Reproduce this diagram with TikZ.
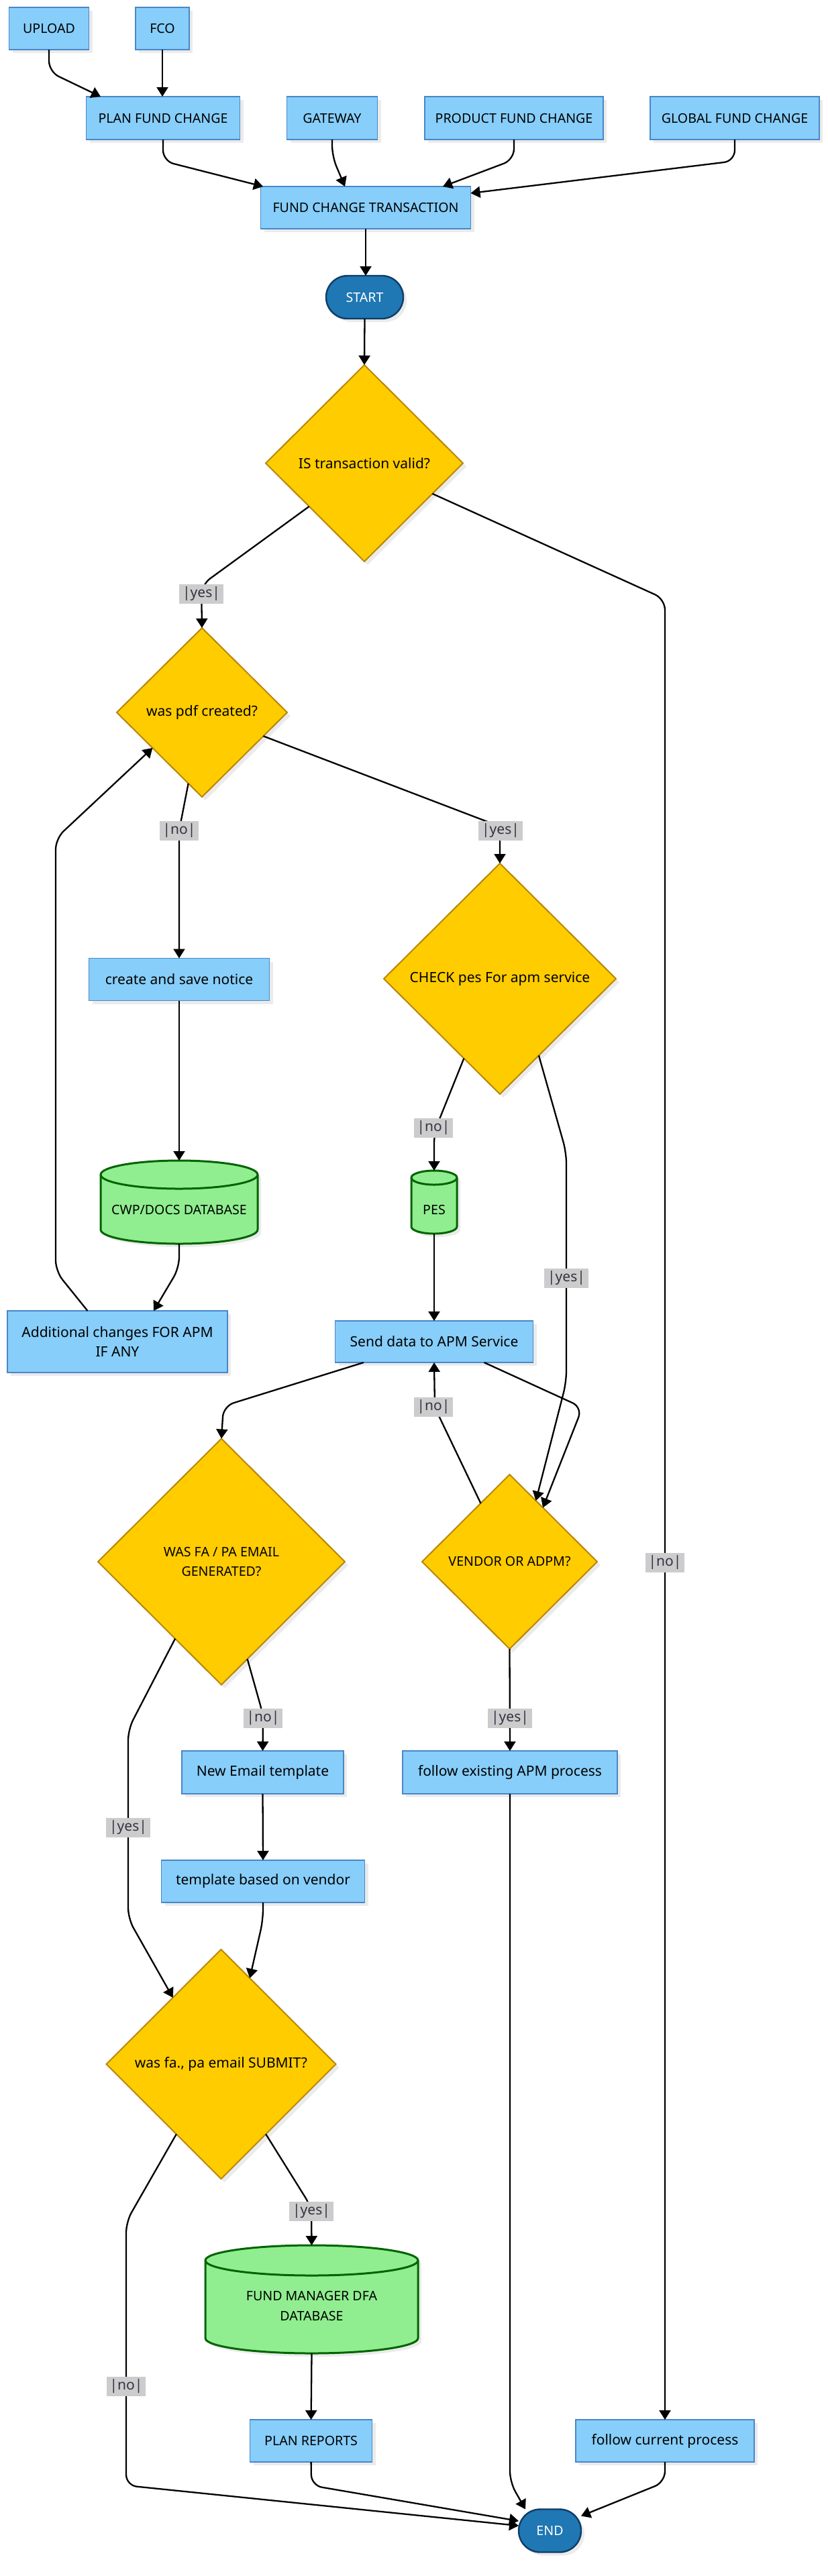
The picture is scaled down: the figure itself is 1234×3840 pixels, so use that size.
\documentclass[tikz,border=0pt]{standalone}
\usepackage{fontspec}
\setmainfont{Noto Sans}
\usetikzlibrary{arrows.meta,shapes.geometric,shadows,calc}
\definecolor{boxfill}{HTML}{87CEFA}
\definecolor{boxline}{HTML}{4A86C8}
\definecolor{decfill}{HTML}{FFCC00}
\definecolor{decline}{HTML}{B8860B}
\definecolor{cylfill}{HTML}{90EE90}
\definecolor{cylline}{HTML}{006400}
\definecolor{termfill}{HTML}{1F77B4}
\definecolor{termline}{HTML}{0F3D66}
\definecolor{lblfill}{HTML}{CCCCCC}
\definecolor{lbltext}{HTML}{333344}
\newcommand\dbcyl[5]{%
 \pgfmathsetmacro\dbXa{#1-#3/2}%
 \pgfmathsetmacro\dbXb{#1+#3/2}%
 \pgfmathsetmacro\dbYt{-(#2)+#4/2-#5}%
 \pgfmathsetmacro\dbYb{-(#2)-#4/2+#5}%
 \pgfmathsetmacro\dbRx{#3/4}%
 \pgfmathsetmacro\dbRy{#5/2}%
 \fill[black, opacity=0.08, shift={(2.5pt,-2.5pt)}] (\dbXa,\dbYt) -- (\dbXa,\dbYb) arc[start angle=180, end angle=360, x radius=\dbRx pt, y radius=\dbRy pt] -- (\dbXb,\dbYt) arc[start angle=0, end angle=180, x radius=\dbRx pt, y radius=\dbRy pt] -- cycle;
 \filldraw[cylshape] (\dbXa,\dbYt) -- (\dbXa,\dbYb) arc[start angle=180, end angle=360, x radius=\dbRx pt, y radius=\dbRy pt] -- (\dbXb,\dbYt) arc[start angle=0, end angle=180, x radius=\dbRx pt, y radius=\dbRy pt] -- cycle;
 \draw[cylshape, fill=none] (\dbXa,\dbYt) arc[start angle=180, end angle=360, x radius=\dbRx pt, y radius=\dbRy pt];
}
\tikzset{
 base/.style={font=\fontsize{10.5}{14.75}\selectfont, align=center, inner sep=0pt, outer sep=0pt},
 caps/.style={font=\fontsize{9.8}{14.75}\selectfont},
 shad/.style={drop shadow={shadow xshift=2.5pt, shadow yshift=-2.5pt, fill=black, opacity=0.08}},
 box/.style={base, rectangle, fill=boxfill, draw=boxline, line width=0.75pt, shad},
 dec/.style={base, diamond, fill=decfill, draw=decline, line width=1pt, shad},
 term/.style={base, caps, rectangle, rounded corners=16pt, fill=termfill, draw=termline, line width=1.2pt, text=white, shad},
 cylshape/.style={fill=cylfill, draw=cylline, line width=1.5pt},
 cylnode/.style={base, rectangle},
 lbl/.style={base, fill=lblfill, text=lbltext, inner xsep=2.5pt, minimum height=14.5pt},
 edge/.style={line width=1.15pt, rounded corners=8pt, -{Triangle[length=7pt,width=8.5pt]}},
}
\begin{document}
\begin{tikzpicture}[x=0.5pt, y=0.5pt]
\fill[white] (0,0) rectangle (1234,-3840);
\useasboundingbox (0,0) rectangle (1234,-3840);

% nodes
\node[box, caps, minimum width=59.5pt, minimum height=31.5pt] (upload) at (73,-42.5) {UPLOAD};
\node[box, caps, minimum width=40pt, minimum height=31.5pt] (fco) at (242,-42.5) {FCO};
\node[box, caps, minimum width=114.5pt, minimum height=32pt] (plan) at (243,-176) {PLAN FUND CHANGE};
\node[box, caps, minimum width=67.5pt, minimum height=32pt] (gw) at (495,-176) {GATEWAY};
\node[box, caps, minimum width=133pt, minimum height=32pt] (prod) at (766,-176) {PRODUCT FUND CHANGE};
\node[box, caps, minimum width=126pt, minimum height=32pt] (glob) at (1095,-176) {GLOBAL FUND CHANGE};
\node[box, caps, minimum width=156.5pt, minimum height=31.5pt] (fct) at (545,-309.5) {FUND CHANGE TRANSACTION};
\node[term, minimum width=57.5pt, minimum height=32pt] (start) at (543.5,-443) {START};
\node[dec, minimum width=147pt, minimum height=146.5pt] (d1) at (543,-690.5) {IS transaction valid?};
\node[dec, minimum width=127pt, minimum height=126pt] (d2) at (301,-1062) {was pdf created?};
\node[box, minimum width=134.5pt, minimum height=31.5pt] (create) at (267,-1460) {create and save notice};
\node[dec, minimum width=173pt, minimum height=172pt] (d3) at (745,-1459) {CHECK pes For apm service};

\dbcyl{267}{1792}{234}{124}{21}
\node[cylnode, minimum width=117pt, minimum height=62pt] (cwp) at (267,-1792) {};
\node[base, caps] (cwpt) at (267,-1803) {CWP/DOCS DATABASE};
\dbcyl{647}{1792}{68}{94}{10.5}
\node[cylnode, minimum width=34pt, minimum height=47pt] (pes) at (647,-1792) {};
\node[base, caps] (pest) at (647,-1803) {PES};

\node[box, minimum width=164pt, minimum height=46pt] (add) at (175,-2000) {Additional changes FOR APM\\IF ANY};
\node[box, minimum width=147.5pt, minimum height=31pt] (send) at (647,-2000) {Send data to APM Service};
\node[dec, caps, minimum width=184pt, minimum height=183.5pt] (d4) at (330,-2328) {WAS FA / PA EMAIL\\GENERATED?};
\node[dec, caps, minimum width=130.5pt, minimum height=130pt] (d5) at (759.5,-2328) {VENDOR OR ADPM?};
\node[box, minimum width=120.5pt, minimum height=32pt] (ne) at (391.5,-2642) {New Email template};
\node[box, minimum width=160pt, minimum height=32pt] (fex) at (760,-2642) {follow existing APM process};
\node[box, minimum width=151.5pt, minimum height=31.5pt] (tpl) at (392,-2804.5) {template based on vendor};
\node[dec, minimum width=171pt, minimum height=171pt] (d6) at (329.5,-3077) {was fa., pa email SUBMIT?};

\dbcyl{464.5}{3427.5}{317}{161}{22.5}
\node[cylnode, minimum width=158.5pt, minimum height=80.5pt] (fm) at (464.5,-3427.5) {};
\node[base, caps] (fmt) at (464.5,-3437.5) {FUND MANAGER DFA\\DATABASE};

\node[box, caps, minimum width=91pt, minimum height=31.5pt] (pr) at (463.6,-3638.5) {PLAN REPORTS};
\node[box, minimum width=133pt, minimum height=31.5pt] (fcur) at (991,-3638.5) {follow current process};
\node[term, minimum width=46.5pt, minimum height=32pt] (end) at (819.5,-3772.5) {END};

% edges
\draw[edge] (upload.south) -- (73,-107) -- ([xshift=10.75pt]plan.north west);
\draw[edge] (fco.south) -- (fco.south |- plan.north);
\draw[edge] (plan.south) -- (243,-240) -- ([xshift=1.75pt]fct.north west);
\draw[edge] (gw.south) -- (495,-233) -- ([xshift=-15.5pt]fct.north);
\draw[edge] (prod.south) -- (766,-238) -- ([xshift=57.5pt]fct.north);
\draw[edge] (glob.south) -- (1095,-240) -- ([yshift=10.75pt]fct.east);
\draw[edge] (fct.south) -- (fct.south |- start.north);
\draw[edge] (start.south) -- (d1.north);
\draw[edge] ($(d1.west)!0.44!(d1.south)$) -- (300,-872) -- (d2.north);
\draw[edge] ($(d1.east)!0.31!(d1.south)$) -- (991,-893) -- (fcur.north);
\draw[edge] ($(d2.south)!0.16!(d2.west)$) -- (267,-1238) -- (create.north);
\draw[edge] ($(d2.east)!0.28!(d2.south)$) -- (745,-1232) -- (d3.north);
\draw[edge] (create.south) -- (cwp.north);
\draw[edge] (cwp.south) -- (267,-1890) -- ([xshift=27pt]add.north);
\draw[edge] ([xshift=-22.25pt]add.north) -- (83,-1895) -- (83,-1250) -- ($(d2.west)!0.42!(d2.south)$);
\draw[edge] ($(d3.south)!0.31!(d3.west)$) -- (647,-1688) -- (pes.north);
\draw[edge] ($(d3.south)!0.335!(d3.east)$) -- (844,-1718) -- (844,-2060) -- ($(d5.north)!0.3!(d5.east)$);
\draw[edge] (pes.south) -- (send.north);
\draw[edge] ([xshift=-52.5pt]send.south) -- (333,-2096) -- (d4.north);
\draw[edge] ([xshift=37.25pt]send.south) -- (868,-2098) -- ($(d5.north)!0.38!(d5.east)$);
\draw[edge] ($(d5.north)!0.33!(d5.west)$) -- (648,-2098) -- (send.south);
\draw[edge] ($(d4.south)!0.21!(d4.east)$) -- (392,-2556) -- (ne.north);
\draw[edge] (d5.south) -- (fex.north);
\draw[edge] ($(d4.south)!0.375!(d4.west)$) -- (191,-2578) -- (191,-2860) -- ($(d6.north)!0.42!(d6.west)$);
\draw[edge] (ne.south) -- (tpl.north);
\draw[edge] (tpl.south) -- (392,-2862) -- ($(d6.north)!0.25!(d6.east)$);
\draw[edge] ($(d6.south)!0.39!(d6.east)$) -- (464,-3290) -- (fm.north);
\draw[edge] (fm.south) -- (pr.north);
\draw[edge] ($(d6.south)!0.39!(d6.west)$) -- (188,-3312) -- (188,-3705) -- ([yshift=3.75pt]end.west);
\draw[edge] (pr.south) -- (464,-3705) -- ([yshift=7.25pt]end.west);
\draw[edge] (fex.south) -- (760,-3700) -- ([xshift=5pt]end.north west);
\draw[edge] (fcur.south) -- (991,-3700) -- ([yshift=-5pt]end.north east);

% edge labels
\node[lbl] (l1) at (300,-885) {|yes|};
\node[lbl] (l2) at (991,-2329) {|no|};
\node[lbl] (l3) at (267,-1238) {|no|};
\node[lbl] (l4) at (746,-1238) {|yes|};
\node[lbl] (l5) at (646,-1681) {|no|};
\node[lbl] (l6) at (844,-1905) {|yes|};
\node[lbl] (l7) at (646,-2097) {|no|};
\node[lbl] (l8) at (392,-2561) {|no|};
\node[lbl] (l9) at (760,-2561) {|yes|};
\node[lbl] (l10) at (191,-2724) {|yes|};
\node[lbl] (l11) at (464,-3296) {|yes|};
\node[lbl] (l12) at (188,-3557) {|no|};
\end{tikzpicture}
\end{document}
